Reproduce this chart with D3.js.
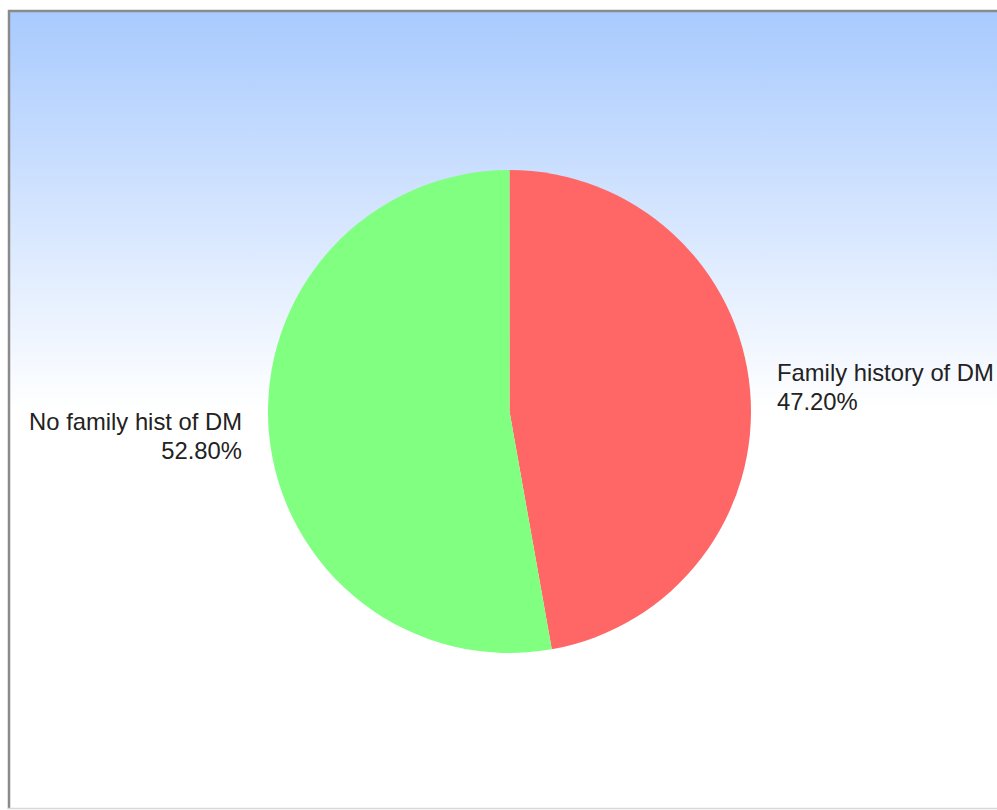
<!DOCTYPE html>
<html>
<head>
<meta charset="utf-8">
<script src="https://cdn.jsdelivr.net/npm/d3@7"></script>
<style>
  html, body { margin: 0; padding: 0; background: #fff; }
  svg { display: block; }
</style>
</head>
<body>
<svg id="chart" width="997" height="810"></svg>
<script>
// Share of respondents by family history of diabetes mellitus
const categories = ["Family history of DM", "No family hist of DM"];
const values = [47.2, 52.8];
const colors = ["#ff6666", "#80ff80"];

const W = 997, H = 810;
const svg = d3.select("#chart");

// Plot frame with a blue-to-white vertical gradient
const defs = svg.append("defs");
const grad = defs.append("linearGradient")
  .attr("id", "bg").attr("gradientUnits", "userSpaceOnUse")
  .attr("x1", 0).attr("y1", 10).attr("x2", 0).attr("y2", 410);
grad.append("stop").attr("offset", 0).attr("stop-color", "#a8cafe");
grad.append("stop").attr("offset", 1).attr("stop-color", "#ffffff");

svg.append("rect")
  .attr("x", 9).attr("y", 11).attr("width", W - 9).attr("height", 797)
  .attr("fill", "url(#bg)");
svg.append("line").attr("x1", 9).attr("x2", 9).attr("y1", 10).attr("y2", 809)
  .attr("stroke", "#8a8a8a").attr("stroke-width", 2.5);
svg.append("line").attr("x1", 8).attr("x2", W).attr("y1", 11).attr("y2", 11)
  .attr("stroke", "#8a8a8a").attr("stroke-width", 2.5);
svg.append("line").attr("x1", 8).attr("x2", W).attr("y1", 808.5).attr("y2", 808.5)
  .attr("stroke", "#d8d8d8").attr("stroke-width", 1.5);

// Pie geometry
const cx = 509.5, cy = 411.5, r = 241.5;
const pie = d3.pie().sort(null).value(d => d.value);
const data = categories.map((c, i) => ({ name: c, value: values[i], color: colors[i] }));
const arcs = pie(data);
const arc = d3.arc().innerRadius(0).outerRadius(r);

const g = svg.append("g").attr("transform", `translate(${cx},${cy})`);
g.selectAll("path.slice").data(arcs).join("path")
  .attr("class", "slice")
  .attr("d", arc)
  .attr("fill", d => d.data.color);

// Labels placed beside the pie at the slice's mid angle
const total = d3.sum(values);
const fmt = v => (v / total * 100).toFixed(2) + "%";
const labelR = r + 40, gap = 26, lineH = 29;

arcs.forEach(a => {
  const mid = (a.startAngle + a.endAngle) / 2;
  const right = Math.sin(mid) >= 0;
  const ay = cy - labelR * Math.cos(mid);
  const x = right ? cx + r + gap : cx - r - gap;
  const t = svg.append("text")
    .attr("x", x).attr("y", ay - 6)
    .attr("text-anchor", right ? "start" : "end")
    .attr("font-family", "'Liberation Sans', Arial, sans-serif")
    .attr("font-size", 23.8)
    .attr("fill", "#222");
  t.append("tspan").attr("x", x).text(a.data.name);
  t.append("tspan").attr("x", x).attr("dy", lineH).text(fmt(a.data.value));
});
</script>
</body>
</html>
